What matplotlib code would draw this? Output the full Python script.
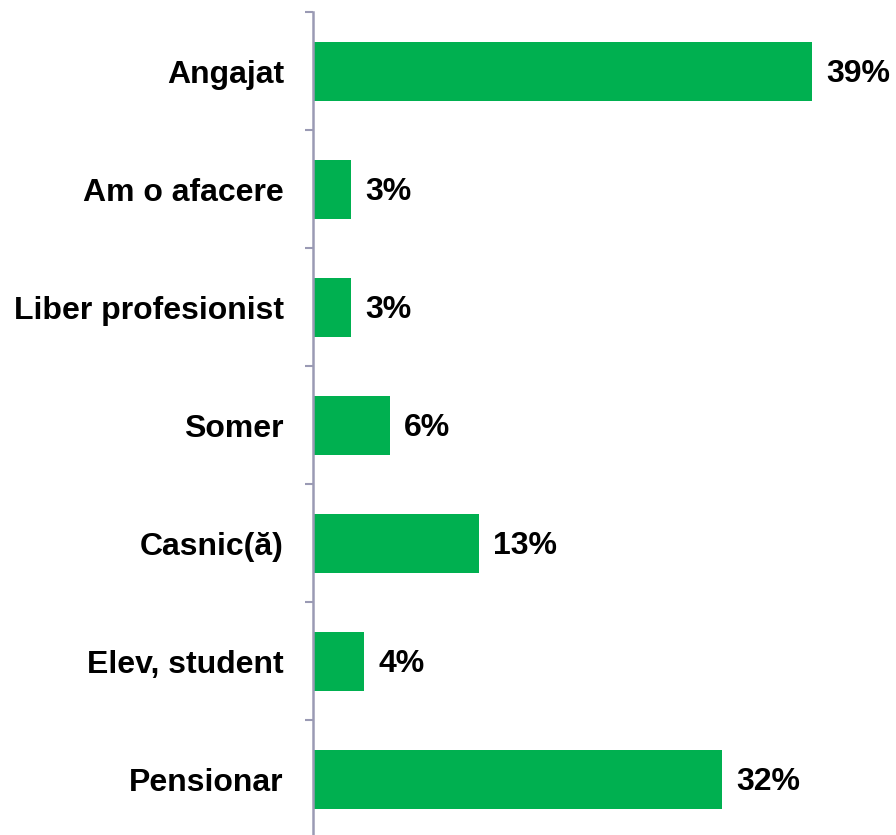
import matplotlib
matplotlib.use("Agg")
import matplotlib.pyplot as plt

categories = ["Angajat", "Am o afacere", "Liber profesionist", "Somer", "Casnic(ă)", "Elev, student", "Pensionar"]
values = [39, 3, 3, 6, 13, 4, 32]
value_labels = ["39%", "3%", "3%", "6%", "13%", "4%", "32%"]

plt.rcParams['font.family'] = ['Liberation Sans', 'DejaVu Sans']

W, H = 896, 835
fig = plt.figure(figsize=(W/100, H/100), dpi=100)
px_per_unit = 499/39
xmax = 44.0
left = 313/W
width = xmax*px_per_unit/W
top_px, bot_px = 12, 838
ax = fig.add_axes([left, 1-bot_px/H, width, (bot_px-top_px)/H])

y = list(range(len(categories)))
ax.barh(y, values, height=0.5, color="#00B050")
ax.set_xlim(0, xmax)
ax.set_ylim(len(categories)-0.5, -0.5)

for yi, v, lab in zip(y, values, value_labels):
    ax.annotate(lab, (v, yi), xytext=(10, -2), textcoords="offset points",
                va="center", ha="left", fontsize=23, fontweight="bold")

ax.set_yticks(y)
ax.set_yticklabels(categories, fontsize=23, fontweight="bold")
for t in ax.get_yticklabels():
    t.set_y(t.get_position()[1])
ax.tick_params(axis="y", which="major", length=0, pad=21)
ax.set_yticks([i-0.5 for i in range(len(categories)+1)], minor=True)
ax.tick_params(axis="y", which="minor", length=6, width=1.5, color="#9A9AB4", direction="out")
ax.set_xticks([])
for s in ["top", "right", "bottom"]:
    ax.spines[s].set_visible(False)
ax.spines["left"].set_color("#9A9AB4")
ax.spines["left"].set_linewidth(1.8)

fig.savefig("out.png", dpi=100)
